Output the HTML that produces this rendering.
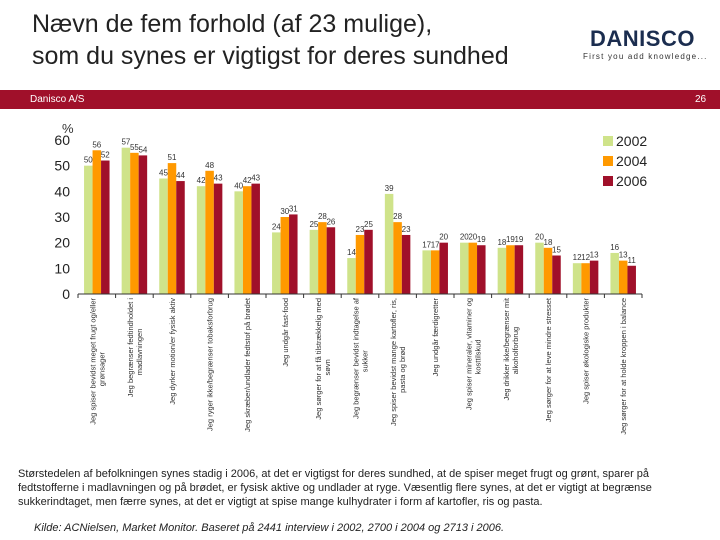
<!DOCTYPE html>
<html><head><meta charset="utf-8"><style>
body{margin:0;width:720px;height:540px;background:#fff;font-family:"Liberation Sans",sans-serif;overflow:hidden;position:relative}
.t{position:absolute}
</style></head><body>
<div class="t" style="left:32px;top:8px;font-size:25px;line-height:32px;color:#222">Nævn de fem forhold (af 23 mulige),<br>som du synes er vigtigst for deres sundhed</div>
<div class="t" style="left:590px;top:26px;font-size:22px;font-weight:bold;color:#1b2d4f;letter-spacing:0.5px">DANISCO</div>
<div class="t" style="left:583px;top:52px;font-size:8px;color:#333;letter-spacing:1.2px">First you add knowledge...</div>
<div class="t" style="left:0;top:90px;width:720px;height:19px;background:#a0102a"></div>
<div class="t" style="left:30px;top:94px;font-size:10px;color:#fff">Danisco A/S</div>
<div class="t" style="left:695px;top:94px;font-size:10px;color:#fff">26</div>
<svg class="t" style="left:0;top:0" width="720" height="540" id="c"></svg>
<div class="t" style="left:18px;top:467px;font-size:11px;line-height:14px;color:#222;width:690px">Størstedelen af befolkningen synes stadig i 2006, at det er vigtigst for deres sundhed, at de spiser meget frugt og grønt, sparer på fedtstofferne i madlavningen og på brødet, er fysisk aktive og undlader at ryge. Væsentlig flere synes, at det er vigtigt at begrænse sukkerindtaget, men færre synes, at det er vigtigt at spise mange kulhydrater i form af kartofler, ris og pasta.</div>
<div class="t" style="left:34px;top:522px;font-size:11px;font-style:italic;color:#222">Kilde: ACNielsen, Market Monitor. Baseret på 2441 interview i 2002, 2700 i 2004 og 2713 i 2006.</div>
<script>
const categories=[["Jeg spiser bevidst meget frugt og/eller","grønsager"],["Jeg begrænser fedtindholdet i","madlavningen"],["Jeg dyrker motion/er fysisk aktiv"],["Jeg ryger ikke/begrænser tobaksforbrug"],["Jeg skræber/undlader fedtstof på brødet"],["Jeg undgår fast-food"],["Jeg sørger for at få tilstrækkelig med","søvn"],["Jeg begrænser bevidst indtagelse af","sukker"],["Jeg spiser bevidst mange kartofler, ris,","pasta og brød"],["Jeg undgår færdigretter"],["Jeg spiser mineraler, vitaminer og","kosttilskud"],["Jeg drikker ikke/begrænser mit","alkoholforbrug"],["Jeg sørger for at leve mindre stresset"],["Jeg spiser økologiske produkter"],["Jeg sørger for at holde kroppen i balance"]];
const s2002=[50,57,45,42,40,24,25,14,39,17,20,18,20,12,16];
const s2004=[56,55,51,48,42,30,28,23,28,17,20,19,18,12,13];
const s2006=[52,54,44,43,43,31,26,25,23,20,19,19,15,13,11];
const seriesNames=["2002","2004","2006"];
const yTicks=[0,10,20,30,40,50,60];
const colors=["#cfe38a","#ff9900","#a0102a"];
const svg=document.getElementById('c');const NS="http://www.w3.org/2000/svg";
function mk(t,a,txt){const e=document.createElementNS(NS,t);for(const k in a)e.setAttribute(k,a[k]);if(txt!=null)e.textContent=txt;svg.appendChild(e);return e;}
const x0=78,x1=642,y0=294,yTop=140;
const y=v=>y0-(v/60)*(y0-yTop);
const gw=(x1-x0)/categories.length;
const gx=i=>x0+i*gw;
let e=mk('text',{x:62,y:133,'font-size':13,fill:'#333'},'%');

yTicks.forEach(t=>{const el=mk('text',{x:70,y:y(t)+5,'font-size':14,'text-anchor':'end',fill:'#222'},t);
});
const all=[s2002,s2004,s2006];const bw=8.5;
categories.forEach((c,i)=>{
 const cx=gx(i)+gw/2;
 all.forEach((s,k)=>{const bx=cx-1.5*bw+k*bw;
  const r=mk('rect',{x:bx,y:y(s[i]),width:bw,height:y0-y(s[i]),fill:colors[k]});
  
  const l=mk('text',{x:bx+bw/2,y:y(s[i])-3,'font-size':8,'text-anchor':'middle',fill:'#333'},s[i]);
  });
 const g=document.createElementNS(NS,'text');
 g.setAttribute('transform','translate('+cx+',298) rotate(-90)');g.setAttribute('font-size','7.5');g.setAttribute('fill','#333');g.setAttribute('text-anchor','end');
 
 const n=c.length;
 c.forEach((ln,j)=>{const ts=document.createElementNS(NS,'tspan');ts.setAttribute('x',j==0?0:-((c[0].length*3.6-ln.length*3.6)/2));ts.setAttribute('y',(j-(n-1)/2)*9+3);ts.textContent=ln;g.appendChild(ts);});
 svg.appendChild(g);
 const tk=mk('line',{x1:gx(i),x2:gx(i),y1:y0,y2:y0+4,stroke:'#333'});
 
});
mk('line',{x1:gx(categories.length),x2:gx(categories.length),y1:y0,y2:y0+4,stroke:'#333'});
const ax=mk('line',{x1:x0,x2:x1,y1:y0,y2:y0,stroke:'#333'});

seriesNames.forEach((n,k)=>{
 const r=mk('rect',{x:603,y:136+k*20,width:10,height:10,fill:colors[k]});
 
 const t=mk('text',{x:616,y:146+k*20,'font-size':14,fill:'#222'},n);
 
});
</script>
</body></html>
